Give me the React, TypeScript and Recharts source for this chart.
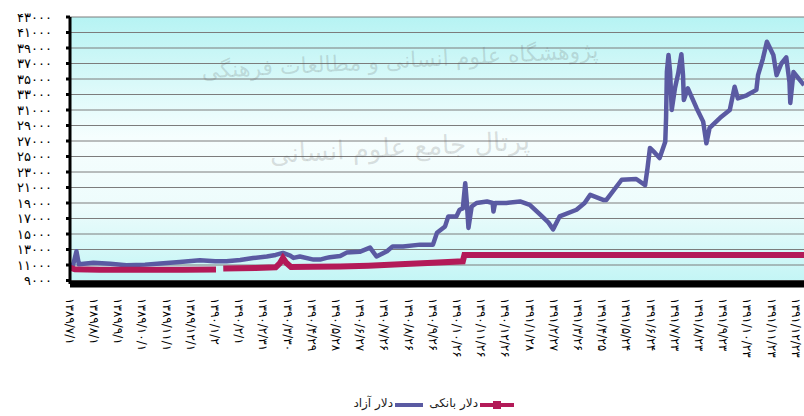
import React from 'react';
import { LineChart, Line, XAxis, YAxis, CartesianGrid } from 'recharts';

// روزهای شمارش از ۱۳۸۹/۷/۱ و برچسب تاریخ هر ۳۰ روز
const xTickDays = [0, 30, 60, 90, 120, 150, 180, 210, 240, 270, 300, 330, 360, 390, 420, 450,
  480, 510, 540, 570, 600, 630, 660, 690, 720, 750, 780, 810, 840, 870, 900];
const xTickLabels = [
  '۱۳۸۹/۷/۱', '۱۳۸۹/۸/۱', '۱۳۸۹/۹/۱', '۱۳۸۹/۱۰/۱', '۱۳۸۹/۱۱/۱', '۱۳۸۹/۱۲/۱',
  '۱۳۹۰/۱/۲', '۱۳۹۰/۲/۱', '۱۳۹۰/۲/۳۱', '۱۳۹۰/۳/۳۰', '۱۳۹۰/۴/۲۹', '۱۳۹۰/۵/۲۸',
  '۱۳۹۰/۶/۲۷', '۱۳۹۰/۷/۲۶', '۱۳۹۰/۸/۲۶', '۱۳۹۰/۹/۲۶', '۱۳۹۰/۱۰/۲۶', '۱۳۹۰/۱۱/۲۶',
  '۱۳۹۰/۱۲/۲۶', '۱۳۹۱/۱/۲۸', '۱۳۹۱/۲/۲۷', '۱۳۹۱/۳/۲۶', '۱۳۹۱/۴/۲۵', '۱۳۹۱/۵/۲۴',
  '۱۳۹۱/۶/۲۴', '۱۳۹۱/۷/۲۳', '۱۳۹۱/۸/۲۳', '۱۳۹۱/۹/۲۳', '۱۳۹۱/۱۰/۲۳', '۱۳۹۱/۱۱/۲۳',
  '۱۳۹۱/۱۲/۲۳',
];
const yTicks = [9000, 11000, 13000, 15000, 17000, 19000, 21000, 23000, 25000,
  27000, 29000, 31000, 33000, 35000, 37000, 39000, 41000, 43000];

// دلار آزاد
const freeDays = [
  0, 4, 8, 11, 29, 50, 70, 93, 112, 136,
  161, 180, 194, 211, 227, 244, 255, 264, 273, 277,
  285, 302, 310, 318, 322, 335, 343, 359, 372, 380,
  393, 400, 413, 434, 450, 455, 465, 469, 479, 483,
  487, 490, 492, 494, 498, 504, 517, 524, 525, 527,
  541, 558, 570, 583, 593, 599, 607, 628, 638, 645,
  661, 665, 684, 702, 713, 716, 719, 725, 731, 738,
  739, 740, 742, 744, 746, 750, 754, 758, 760, 761,
  766, 777, 785, 789, 793, 806, 818, 824, 828, 839,
  851, 853, 859, 864, 872, 876, 882, 888, 892, 893,
  897, 903, 910,
];
const freeRates = [
  11000, 11060, 12770, 11100, 11280, 11150, 10970, 11050, 11200, 11400,
  11600, 11500, 11480, 11650, 11900, 12100, 12300, 12560, 12200, 11920,
  12100, 11700, 11700, 11920, 12000, 12150, 12600, 12700, 13250, 12100,
  12770, 13400, 13400, 13630, 13630, 15170, 15980, 17270, 17270, 18130,
  18300, 21560, 19000, 15780, 18550, 19000, 19200, 19000, 17900, 19000,
  19000, 19200, 18770, 17490, 16500, 15600, 17270, 18130, 19000, 20060,
  19400, 19400, 22000, 22100, 21300, 23500, 26100, 25500, 24800, 26900,
  30000, 35900, 38100, 35900, 31000, 33800, 35700, 38200, 35500, 32300,
  33800, 31200, 29500, 26700, 28700, 30000, 31000, 34000, 32500, 32900,
  33600, 35500, 37600, 39800, 38100, 35500, 37000, 37800, 34600, 31900,
  35900, 35100, 34200,
];

// دلار بانکی (null = بدون داده)
const bankDays = [0, 6, 37, 99, 140, 181, 182, 190, 230, 255, 260, 264, 268, 274,
  300, 335, 370, 409, 450, 487, 489, 600, 750, 910];
const bankRates = [10650, 10450, 10400, 10380, 10400, 10420, null, 10550, 10620, 10700,
  11200, 11900, 11300, 10750, 10780, 10800, 10900, 11100, 11300, 11480,
  12300, 12300, 12300, 12300];

const FA_DIGITS = '۰۱۲۳۴۵۶۷۸۹';
const toFa = (v: number | string) => String(v).replace(/\d/g, (d) => FA_DIGITS[Number(d)]);

const freeData = freeDays.map((day, i) => ({ day, rate: freeRates[i] }));
const bankData = bankDays.map((day, i) => ({ day, rate: bankRates[i] }));

const FREE_COLOR = '#5a5aa2';
const BANK_COLOR = '#b31a58';
const FONT = '"DejaVu Sans", sans-serif';

function DateTick({ x, y, payload }: any) {
  const label = xTickLabels[xTickDays.indexOf(payload.value)];
  return (
    <g transform={`translate(${x},${y})`}>
      <text
        transform="rotate(90)"
        textAnchor="start"
        dy="0.35em"
        fontSize={12}
        fill="#000"
        fontFamily={FONT}
        direction="ltr"
        unicodeBidi="bidi-override"
        style={{ direction: 'ltr', unicodeBidi: 'bidi-override' }}
      >
        {label}
      </text>
    </g>
  );
}

const watermark: React.CSSProperties = {
  position: 'absolute', textAlign: 'center', direction: 'rtl', whiteSpace: 'nowrap',
  color: 'rgba(90,90,90,0.2)', transform: 'rotate(-3deg)', pointerEvents: 'none',
};

export default function App() {
  return (
    <div style={{ position: 'absolute', left: 0, top: 0, width: 804, height: 416, background: '#fff', fontFamily: FONT }}>
      <svg width={0} height={0} style={{ position: 'absolute' }}>
        <defs>
          <linearGradient id="plotBg" x1="0" y1="0" x2="0" y2="1">
            <stop offset="0%" stopColor="#b6f3f3" />
            <stop offset="45%" stopColor="#f6fefe" />
            <stop offset="70%" stopColor="#eefcfc" />
            <stop offset="100%" stopColor="#c2f5f5" />
          </linearGradient>
        </defs>
      </svg>

      <LineChart width={804} height={416} margin={{ top: 17, right: 0, bottom: 32, left: 0 }}>
        <CartesianGrid vertical={false} stroke="#7c7c7c" fill="url(#plotBg)" fillOpacity={1} />
        <XAxis
          type="number"
          dataKey="day"
          domain={[0, 910]}
          ticks={xTickDays}
          interval={0}
          allowDataOverflow
          height={100}
          tickLine={false}
          tickSize={0}
          tickMargin={14}
          axisLine={{ stroke: '#000', strokeWidth: 7 }}
          tick={<DateTick />}
        />
        <YAxis
          type="number"
          domain={[8550, 43000]}
          ticks={yTicks}
          interval={0}
          allowDataOverflow
          width={70}
          tickSize={4}
          tickMargin={14}
          tickFormatter={toFa}
          tickLine={{ stroke: '#000', strokeWidth: 3 }}
          axisLine={{ stroke: '#000', strokeWidth: 3 }}
          tick={{ fontSize: 13, fill: '#000', fontFamily: FONT }}
        />
        <Line
          data={freeData}
          dataKey="rate"
          name="دلار آزاد"
          type="linear"
          stroke={FREE_COLOR}
          strokeWidth={4.5}
          strokeLinejoin="round"
          dot={false}
          isAnimationActive={false}
        />
        <Line
          data={bankData}
          dataKey="rate"
          name="دلار بانکی"
          type="linear"
          stroke={BANK_COLOR}
          strokeWidth={6}
          dot={false}
          connectNulls={false}
          isAnimationActive={false}
        />
      </LineChart>

      {/* واترمارک */}
      <div style={{ ...watermark, left: 200, top: 48, width: 400, fontSize: 22 }}>
        پژوهشگاه علوم انسانی و مطالعات فرهنگی
      </div>
      <div style={{ ...watermark, left: 280, top: 132, width: 250, fontSize: 26 }}>
        پرتال جامع علوم انسانی
      </div>

      {/* راهنما */}
      <div style={{ position: 'absolute', left: 0, top: 396, width: 804, height: 18 }}>
        <span style={{ position: 'absolute', right: 804 - 393, top: 0, fontSize: 12, direction: 'rtl', color: '#222' }}>دلار آزاد</span>
        <svg style={{ position: 'absolute', left: 395, top: 0 }} width={30} height={18}>
          <line x1={0} y1={9} x2={28} y2={9} stroke={FREE_COLOR} strokeWidth={4} />
        </svg>
        <span style={{ position: 'absolute', right: 804 - 478, top: 0, fontSize: 12, direction: 'rtl', color: '#222' }}>دلار بانکی</span>
        <svg style={{ position: 'absolute', left: 480, top: 0 }} width={36} height={18}>
          <line x1={0} y1={9} x2={34} y2={9} stroke={BANK_COLOR} strokeWidth={4} />
          <rect x={13} y={5} width={8} height={8} fill={BANK_COLOR} />
        </svg>
      </div>
    </div>
  );
}
